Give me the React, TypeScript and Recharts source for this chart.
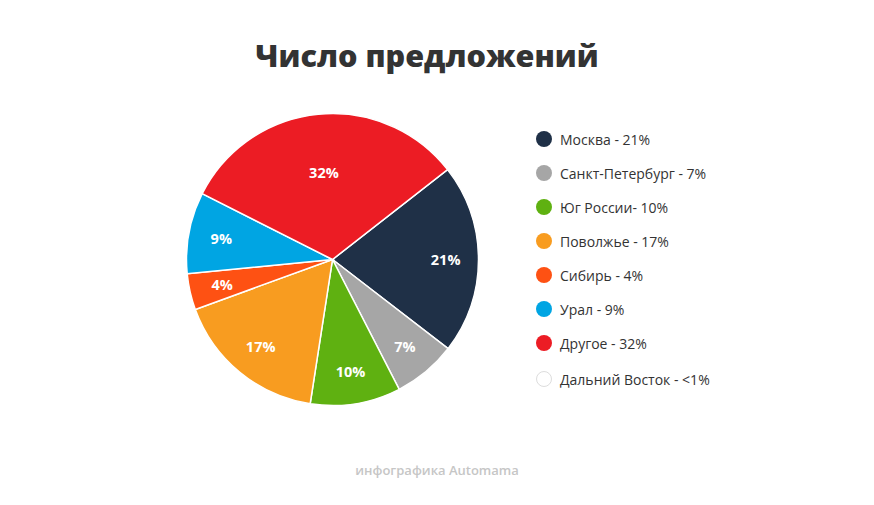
import React from "react";
import { PieChart, Pie, Cell } from "recharts";

const regions = ["Москва", "Санкт-Петербург", "Юг России", "Поволжье", "Сибирь", "Урал", "Другое", "Дальний Восток"];
const shares = [21, 7, 10, 17, 4, 9, 32, 0];
const legendLabels = [
  "Москва - 21%",
  "Санкт-Петербург - 7%",
  "Юг России- 10%",
  "Поволжье - 17%",
  "Сибирь - 4%",
  "Урал - 9%",
  "Другое - 32%",
  "Дальний Восток - <1%",
];
const sliceLabels = ["21%", "7%", "10%", "17%", "4%", "9%", "32%", ""];
const colors = ["#1f3047", "#a6a6a6", "#5fb111", "#f89c20", "#fe5113", "#00a5e3", "#ec1c24", "#ffffff"];

const FONT = "'Open Sans', 'Noto Sans', sans-serif";
const RADIAN = Math.PI / 180;

const pieData = regions
  .map((name, i) => ({ name, value: shares[i], label: sliceLabels[i], color: colors[i] }))
  .filter((d) => d.value > 0);

const renderLabel = (props: any) => {
  const { cx, cy, midAngle, outerRadius, payload } = props;
  const val = payload && payload.value !== undefined ? payload.value : props.value;
  const r = val > 30 ? outerRadius * 0.6 : outerRadius * 0.775;
  const x = cx + r * Math.cos(-midAngle * RADIAN);
  const y = cy + r * Math.sin(-midAngle * RADIAN);
  const text = payload && payload.label !== undefined ? payload.label : props.label;
  return (
    <text
      x={x}
      y={y}
      fill="#ffffff"
      textAnchor="middle"
      dominantBaseline="central"
      fontFamily={FONT}
      fontWeight={700}
      fontSize={14.5}
    >
      {text}
    </text>
  );
};

export default function App() {
  return (
    <div style={{ position: "absolute", left: 0, top: 0, width: 874, height: 505, background: "#fff", fontFamily: FONT }}>
      <div
        style={{
          position: "absolute",
          left: 0,
          width: 854,
          top: 34,
          textAlign: "center",
          fontSize: 30.6,
          fontWeight: 800,
          color: "#333333",
          lineHeight: "42px",
        }}
      >
        Число предложений
      </div>
      <div style={{ position: "absolute", left: 0, top: 0 }}>
        <PieChart width={874} height={505} margin={{ top: 0, right: 0, bottom: 0, left: 0 }}>
          <Pie
            data={pieData}
            dataKey="value"
            nameKey="name"
            cx={332.5}
            cy={259.5}
            outerRadius={146}
            startAngle={38}
            endAngle={-322}
            stroke="#ffffff"
            strokeWidth={1.5}
            label={renderLabel}
            labelLine={false}
            isAnimationActive={false}
          >
            {pieData.map((d, i) => (
              <Cell key={i} fill={d.color} />
            ))}
          </Pie>
        </PieChart>
      </div>
      <div style={{ position: "absolute", left: 536, top: 129 }}>
        {legendLabels.map((lab, i) => (
          <div
            key={i}
            style={{
              display: "flex",
              alignItems: "center",
              height: 20,
              marginBottom: i === 6 ? 16 : 14,
            }}
          >
            <div
              style={{
                width: 16,
                height: 16,
                borderRadius: 8,
                background: colors[i],
                boxSizing: "border-box",
                border: colors[i] === "#ffffff" ? "1px solid #dddddd" : "none",
                marginRight: 8,
              }}
            />
            <span style={{ fontSize: 14, color: "#333333", whiteSpace: "nowrap" }}>{lab}</span>
          </div>
        ))}
      </div>
      <div
        style={{
          position: "absolute",
          left: 0,
          width: 874,
          top: 461,
          textAlign: "center",
          fontSize: 13,
          fontWeight: 600,
          color: "#c6c6c6",
        }}
      >
        инфографика Automama
      </div>
    </div>
  );
}
